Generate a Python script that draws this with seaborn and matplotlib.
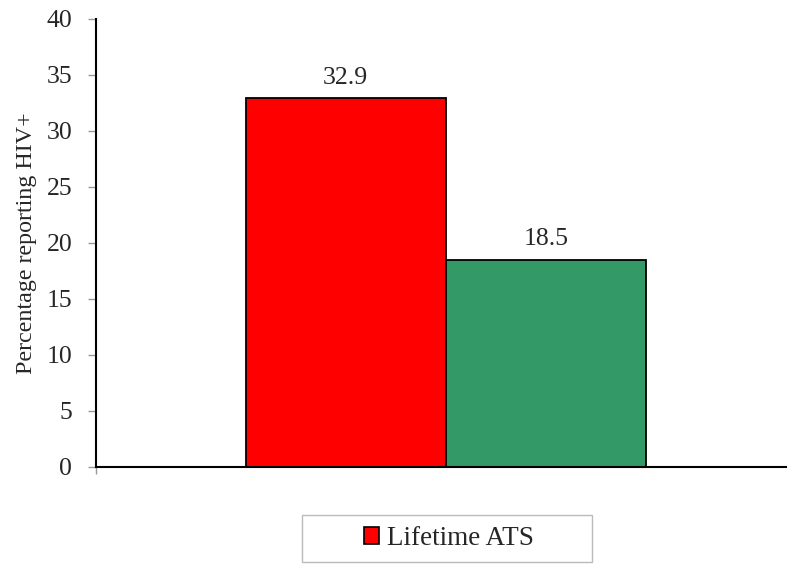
import pandas as pd
import matplotlib
matplotlib.use("Agg")
import matplotlib.pyplot as plt
from matplotlib.patches import Patch, Rectangle
import seaborn as sns

# data
groups = ["Lifetime ATS", "No lifetime ATS"]
values = [32.9, 18.5]
bar_colors = ["#ff0000", "#339966"]
y_ticks = [0, 5, 10, 15, 20, 25, 30, 35, 40]

df = pd.DataFrame({"cat": ["", ""], "group": groups, "pct": values})

sns.set_style("white")
plt.rcParams["font.family"] = ["Liberation Serif", "DejaVu Serif"]

fig = plt.figure(figsize=(7.88, 5.64), dpi=100)
ax = fig.add_axes([0.1218, 0.172, 0.8757, 0.7945])

sns.barplot(data=df, x="cat", y="pct", hue="group", hue_order=groups,
            palette=bar_colors, width=0.58, edgecolor="black", linewidth=1.3,
            saturation=1, legend=False, ax=ax)

for cont in ax.containers:
    ax.bar_label(cont, fmt="%.1f", padding=7, fontsize=18.5)

ax.set_xlim(-0.507, 0.493)
ax.set_ylim(0, 40)
ax.set_yticks(y_ticks)
ax.set_xticks([-0.507])
ax.set_xticklabels([""])
ax.set_xlabel("")
ax.set_ylabel("Percentage reporting HIV+", fontsize=17.3, labelpad=7)
ax.tick_params(axis="y", direction="out", length=6, width=1, color="#999999",
               labelsize=18.5, pad=11, left=True)
ax.tick_params(axis="x", direction="out", length=5, width=1, color="#999999", bottom=True)
for s in ["top", "right"]:
    ax.spines[s].set_visible(False)
for s in ["left", "bottom"]:
    ax.spines[s].set_color("black")
    ax.spines[s].set_linewidth(1.5)

# legend box at the bottom, only the first series is listed
fig.patches.append(Rectangle((302 / 788, 1 - 562 / 564), 290 / 788, 47 / 564,
                             transform=fig.transFigure, fill=False,
                             edgecolor="#bbbbbb", linewidth=1))
handles = [Patch(facecolor=bar_colors[0], edgecolor="black", linewidth=1.2)]
fig.legend(handles, groups[:1], loc="center", bbox_to_anchor=(0.570, 0.045),
           frameon=False, fontsize=19.5, handlelength=0.55, handleheight=0.55,
           handletextpad=0.3)

fig.savefig("out.png", dpi=100)
